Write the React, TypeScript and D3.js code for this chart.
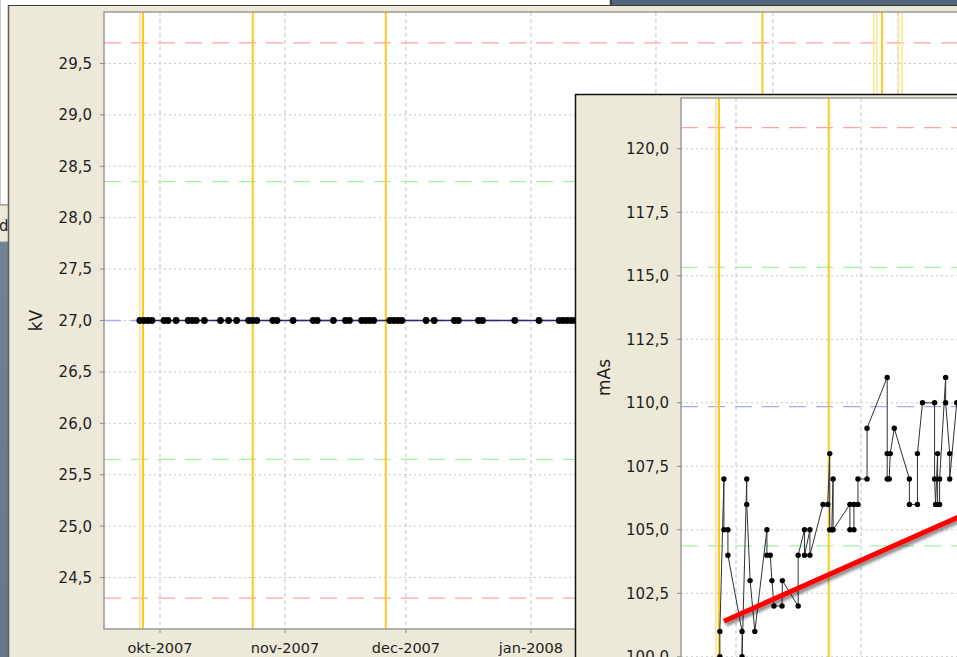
import React from 'react';
import * as d3 from 'd3';

const W = 957;
const H = 657;

// ---- data -------------------------------------------------------------

// tube voltage readings (kV)
const kvDates = [
  '2007-09-26', '2007-09-27', '2007-09-28', '2007-09-29',
  '2007-10-02', '2007-10-03', '2007-10-05',
  '2007-10-08', '2007-10-09', '2007-10-10', '2007-10-12',
  '2007-10-16', '2007-10-18', '2007-10-20',
  '2007-10-23', '2007-10-24', '2007-10-25',
  '2007-10-29', '2007-10-30', '2007-11-03',
  '2007-11-08', '2007-11-09', '2007-11-13',
  '2007-11-16', '2007-11-17',
  '2007-11-20', '2007-11-21', '2007-11-22', '2007-11-23',
  '2007-11-27', '2007-11-28', '2007-11-29', '2007-11-30',
  '2007-12-06', '2007-12-08', '2007-12-13', '2007-12-14',
  '2007-12-19', '2007-12-20', '2007-12-28', '2008-01-03',
  '2008-01-08', '2008-01-09', '2008-01-10', '2008-01-11', '2008-01-12',
  '2008-01-15', '2008-01-16', '2008-01-18', '2008-01-22', '2008-01-23',
];
const kvValues = [
  27.0, 27.0, 27.0, 27.0,
  27.0, 27.0, 27.0,
  27.0, 27.0, 27.0, 27.0,
  27.0, 27.0, 27.0,
  27.0, 27.0, 27.0,
  27.0, 27.0, 27.0,
  27.0, 27.0, 27.0,
  27.0, 27.0,
  27.0, 27.0, 27.0, 27.0,
  27.0, 27.0, 27.0, 27.0,
  27.0, 27.0, 27.0, 27.0,
  27.0, 27.0, 27.0, 27.0,
  27.0, 27.0, 27.0, 27.0, 27.0,
  27.0, 27.0, 27.0, 27.0, 27.0,
];

// tube load readings (mAs)
const masDates = [
  '2007-09-27T00:00', '2007-09-27T00:00', '2007-09-28T00:00', '2007-09-28T00:00',
  '2007-09-29T00:00', '2007-09-29T00:00', '2007-10-02T12:00', '2007-10-02T12:00',
  '2007-10-03T16:00', '2007-10-03T16:00', '2007-10-04T12:00', '2007-10-05T16:00',
  '2007-10-08T16:00', '2007-10-08T16:00', '2007-10-09T12:00', '2007-10-09T22:00',
  '2007-10-10T10:00', '2007-10-12T10:00', '2007-10-12T12:00', '2007-10-16T10:00',
  '2007-10-16T10:00', '2007-10-18T00:00', '2007-10-18T00:00', '2007-10-19T08:00',
  '2007-10-19T08:00', '2007-10-22T14:00', '2007-10-23T18:00', '2007-10-24T06:00',
  '2007-10-24T06:00', '2007-10-24T18:00', '2007-10-25T02:00', '2007-10-25T02:00',
  '2007-10-29T06:00', '2007-10-29T06:00', '2007-10-30T06:00', '2007-10-30T06:00',
  '2007-10-31T06:00', '2007-10-31T06:00', '2007-11-02T12:00', '2007-11-02T12:00',
  '2007-11-07T12:00', '2007-11-07T12:00', '2007-11-07T12:00', '2007-11-08T00:00',
  '2007-11-08T06:00', '2007-11-09T06:00', '2007-11-13T00:00', '2007-11-13T00:00',
  '2007-11-15T00:00', '2007-11-15T00:00', '2007-11-16T06:00', '2007-11-19T06:00',
  '2007-11-19T06:00', '2007-11-19T12:00', '2007-11-20T00:00', '2007-11-20T00:00',
  '2007-11-20T12:00', '2007-11-20T12:00', '2007-11-22T00:00', '2007-11-22T00:00',
  '2007-11-23T00:00', '2007-11-23T00:00', '2007-11-24T18:00', '2007-11-26T00:00',
  '2007-11-27T00:00',
];
const masValues = [
  100, 101, 107, 105,
  105, 104, 101, 100,
  107, 106, 103, 101,
  105, 104, 104, 103,
  102, 102, 103, 102,
  104, 105, 104, 105,
  104, 106, 106, 108,
  105, 105, 107, 105,
  106, 105, 105, 106,
  106, 107, 107, 109,
  111, 108, 107, 107,
  108, 109, 107, 106,
  106, 108, 110, 110,
  107, 106, 108, 106,
  106, 107, 111, 110,
  108, 107, 110, 109,
  111,
];

// linear trend of the mAs readings
const trendDates = ['2007-09-28T00:00', '2007-12-15T00:00'];
const trendValues = [101.4, 106.9];

// control limits, top to bottom
const limitKinds = ['action', 'warning', 'target', 'warning', 'action'];
const kvLimits = [29.7, 28.35, 27.0, 25.65, 24.3];
const masLimits = [120.83, 115.33, 109.85, 104.37, 98.87];

// service / calibration events
const eventDates = [
  '2007-09-26T00:00', '2007-09-26T19:00', '2007-10-24T00:00', '2007-11-26T00:00',
  '2008-02-27T10:00', '2008-03-26T00:00', '2008-03-26T18:00', '2008-03-28T02:00',
  '2008-04-01T04:00', '2008-04-02T02:00',
];
const eventKinds = [
  'planned', 'done', 'done', 'done',
  'done', 'planned', 'planned', 'done',
  'planned', 'planned',
];

const kvTicks = [24.5, 25.0, 25.5, 26.0, 26.5, 27.0, 27.5, 28.0, 28.5, 29.0, 29.5];
const masTicks = [100.0, 102.5, 105.0, 107.5, 110.0, 112.5, 115.0, 117.5, 120.0];
const monthDates = [
  '2007-10-01', '2007-11-01', '2007-12-01', '2008-01-01',
  '2008-02-01', '2008-03-01', '2008-04-01',
];
const monthLabels = [
  'okt-2007', 'nov-2007', 'dec-2007', 'jan-2008',
  'feb-2008', 'mar-2008', 'apr-2008',
];
const timeSpan = ['2007-09-17T02:40', '2008-04-26T08:00'];

// ---- helpers ----------------------------------------------------------

const parseTime = d3.utcParse('%Y-%m-%dT%H:%M');
const parseDay = d3.utcParse('%Y-%m-%d');
const parse = (s: string): Date => (parseTime(s) ?? parseDay(s)) as Date;

const nl = d3.formatLocale({
  decimal: ',',
  thousands: '.',
  grouping: [3],
  currency: ['€', ''],
});
const fmt = nl.format('.1f');

const FONT = '"DejaVu Sans", Verdana, sans-serif';
const BEIGE = '#ece9d8';
const GRID = '#c4c4c4';

const limitColor: Record<string, string> = {
  action: '#ffa3a3',
  warning: '#a8f0a8',
  target: '#a8a8ff',
};
const eventColor: Record<string, string> = {
  planned: '#ffe48c',
  done: '#ffc81e',
};

type ChartProps = {
  id: string;
  left: number;
  top: number;
  right: number;
  bottom: number;
  x: d3.ScaleTime<number, number>;
  y: d3.ScaleLinear<number, number>;
  dates: string[];
  values: number[];
  limits: number[];
  ticks: number[];
  label: string;
  labelX: number;
  tickTextX: number;
  seriesColor: string;
  seriesWidth: number;
  dotR: number;
  showXAxis: boolean;
  visibleRight: number;
  children?: React.ReactNode;
};

function ControlChart(p: ChartProps) {
  const { x, y } = p;
  const idx = d3.range(p.dates.length);
  const pts = idx.map((i) => [x(parse(p.dates[i])), y(p.values[i])] as [number, number]);
  const path = d3.line()(pts) ?? '';
  const months = monthDates.map(parse);
  const events = eventDates.map(parse);
  const clip = `clip-${p.id}`;
  const labelY = (p.top + Math.min(p.bottom, H)) / 2;
  // month labels that are not covered by the window in front
  const shownMonths = months
    .map((m, i) => ({ m, i, px: x(m) }))
    .filter((d) => d.px + 34 < p.visibleRight);
  return (
    <g>
      <defs>
        <clipPath id={clip}>
          <rect x={p.left} y={p.top} width={p.right - p.left} height={p.bottom - p.top} />
        </clipPath>
      </defs>
      <rect x={p.left} y={p.top} width={p.right - p.left} height={p.bottom - p.top} fill="#fff" />
      <g clipPath={`url(#${clip})`}>
        {p.ticks.map((t) => (
          <line key={`h${t}`} x1={p.left} x2={p.right} y1={y(t)} y2={y(t)}
            stroke={GRID} strokeWidth={1} strokeDasharray="2 3" />
        ))}
        {months.map((m, i) => (
          <line key={`v${i}`} x1={x(m)} x2={x(m)} y1={p.top} y2={p.bottom}
            stroke={GRID} strokeWidth={1} strokeDasharray="4 3" />
        ))}
        {p.limits.map((v, i) => (
          <line key={`l${i}`} x1={p.left} x2={p.right} y1={y(v)} y2={y(v)}
            stroke={limitColor[limitKinds[i]]} strokeWidth={1.3} strokeDasharray="17 10" />
        ))}
        {events.map((d, i) => (
          <line key={`e${i}`} x1={x(d)} x2={x(d)} y1={p.top} y2={p.bottom}
            stroke={eventColor[eventKinds[i]]} strokeWidth={eventKinds[i] === 'done' ? 2 : 1.5} />
        ))}
        <path d={path} fill="none" stroke={p.seriesColor} strokeWidth={p.seriesWidth} />
        {pts.map((q, i) => (
          <circle key={`p${i}`} cx={q[0]} cy={q[1]} r={p.dotR} fill="#000" />
        ))}
        {p.children}
      </g>
      <rect x={p.left} y={p.top} width={p.right - p.left} height={p.bottom - p.top}
        fill="none" stroke="#9a9a9a" strokeWidth={1.5} />
      {p.ticks.map((t) => (
        <g key={`yt${t}`}>
          <line x1={p.left - 4} x2={p.left} y1={y(t)} y2={y(t)} stroke="#8a8a8a" />
          <text x={p.tickTextX} y={y(t)} dy="0.36em" textAnchor="end"
            fontFamily={FONT} fontSize={15} fill="#1e1e1e">{fmt(t)}</text>
        </g>
      ))}
      {p.showXAxis && shownMonths.map((d) => (
        <g key={`xt${d.i}`}>
          <line x1={d.px} x2={d.px} y1={p.bottom} y2={p.bottom + 4} stroke="#8a8a8a" />
          <text x={d.px} y={p.bottom + 24} textAnchor="middle"
            fontFamily={FONT} fontSize={14.5} fill="#1e1e1e">{monthLabels[d.i]}</text>
        </g>
      ))}
      <text transform={`translate(${p.labelX},${labelY}) rotate(-90)`} textAnchor="middle"
        dy="0.36em" fontFamily={FONT} fontSize={17} fill="#1e1e1e">{p.label}</text>
    </g>
  );
}

export default function App() {
  const span = timeSpan.map(parse);

  // kV chart
  const k = { left: 104, top: 12, right: 1000, bottom: 629 };
  const xK = d3.scaleUtc().domain(span).range([k.left, k.right]);
  const yK = d3.scaleLinear().domain([24, 30]).range([k.bottom, k.top]);

  // mAs chart
  const m = { left: 681, top: 98, right: 1577, bottom: 740 };
  const xM = d3.scaleUtc().domain(span).range([m.left - 1, m.right - 1]);
  const yM = d3.scaleLinear().domain([97.6, 122]).range([98 + 24.4 * 25.4, 98]);

  const trend = d3.line()(
    trendDates.map((d, i) => [xM(parse(d)), yM(trendValues[i])] as [number, number]),
  ) ?? '';

  return (
    <svg width={W} height={H} viewBox={`0 0 ${W} ${H}`}
      style={{ position: 'absolute', left: 0, top: 0, display: 'block' }}>
      <defs>
        <linearGradient id="desk" x1="0" x2="0" y1="0" y2="1">
          <stop offset="0" stopColor="#7a8a9c" />
          <stop offset="1" stopColor="#66768a" />
        </linearGradient>
        <filter id="shadow" x="-10%" y="-50%" width="130%" height="250%">
          <feDropShadow dx={2} dy={3} stdDeviation={1.8} floodColor="#000" floodOpacity={0.45} />
        </filter>
      </defs>

      {/* desktop and the window behind */}
      <rect x={0} y={0} width={W} height={H} fill="url(#desk)" />
      <rect x={0} y={0} width={W} height={8} fill="#526477" />
      <rect x={0} y={-2} width={610} height={207} fill="#fff" stroke="#9a9a9a" />
      <line x1={611} x2={611} y1={0} y2={6} stroke="#333" strokeWidth={1.5} />
      <rect x={-2} y={205} width={11} height={37} fill={BEIGE} stroke="#8a8a8a" />
      <text x={-1} y={231} fontFamily={FONT} fontSize={15} fill="#1e1e1e">d</text>

      {/* kV window */}
      <rect x={8} y={5} width={W} height={H} fill={BEIGE} />
      <line x1={8.5} x2={8.5} y1={5} y2={H} stroke="#5c5c5c" strokeWidth={1.5} />
      <line x1={8} x2={W} y1={5.5} y2={5.5} stroke="#3c3c3c" strokeWidth={1.2} />
      <ControlChart id="kv" {...k} x={xK} y={yK} dates={kvDates} values={kvValues}
        limits={kvLimits} ticks={kvTicks} label="kV" labelX={36} tickTextX={92}
        seriesColor="#2b2b70" seriesWidth={1.6} dotR={3.4} showXAxis visibleRight={575} />

      {/* mAs window */}
      <rect x={575} y={94} width={W} height={H} fill={BEIGE} />
      <line x1={575.5} x2={575.5} y1={94} y2={H} stroke="#111" strokeWidth={1.5} />
      <line x1={575} x2={W} y1={94.5} y2={94.5} stroke="#111" strokeWidth={1.5} />
      <ControlChart id="mas" {...m} x={xM} y={yM} dates={masDates} values={masValues}
        limits={masLimits} ticks={masTicks} label="mAs" labelX={604} tickTextX={669}
        seriesColor="#303030" seriesWidth={1} dotR={2.7} showXAxis={false} visibleRight={W}>
        <path d={trend} fill="none" stroke="#ff0000" strokeWidth={5} filter="url(#shadow)" />
      </ControlChart>
    </svg>
  );
}
